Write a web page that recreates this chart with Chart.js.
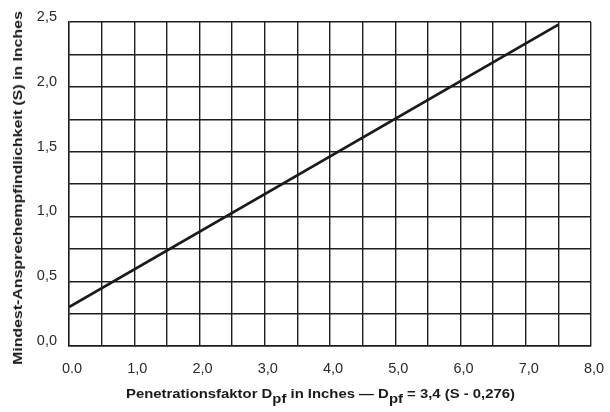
<!DOCTYPE html>
<html>
<head>
<meta charset="utf-8">
<script src="https://cdn.jsdelivr.net/npm/chart.js@4.4.1/dist/chart.umd.min.js"></script>
<style>
    html, body { margin: 0; padding: 0; background: #fff; }
    #wrap { position: relative; width: 610px; height: 412px; }
    .axisTitle {
        position: absolute; white-space: nowrap; line-height: 1;
        font: bold 12.5px "Liberation Sans", Arial, sans-serif; color: #1a1a1a;
    }
    #xTitle { left: 126px; top: 387px; transform-origin: left center; transform: scaleX(1.19); }
    #xTitle sub { font-size: 12.5px; vertical-align: -5px; line-height: 0; }
    #yTitle { left: 18px; top: 188px; transform: translate(-50%, -50%) rotate(-90deg) scaleX(1.27); }
</style>
</head>
<body>
<div id="wrap">
    <canvas id="sensChart" width="610" height="412"></canvas>
    <div id="yTitle" class="axisTitle">Mindest-Ansprechempfindlichkeit (S) in Inches</div>
    <div id="xTitle" class="axisTitle">Penetrationsfaktor D<sub>pf</sub> in Inches — D<sub>pf</sub> = 3,4 (S - 0,276)</div>
</div>
<script>
// Values
const penetrationFactor = [0, 7.5];
const sensitivity = [0.3, 2.48];
const xTickLabels = { 0: '0.0', 1: '1,0', 2: '2,0', 3: '3,0', 4: '4,0', 5: '5,0', 6: '6,0', 7: '7,0', 8: '8,0' };
const yTickLabels = { 0: '0,0', 0.5: '0,5', 1: '1,0', 1.5: '1,5', 2: '2,0', 2.5: '2,5' };

const gridColor = '#1e1e1e';
const tickFont = { family: '"Liberation Sans", Arial, sans-serif', size: 14.5 };

new Chart(document.getElementById('sensChart'), {
    type: 'line',
    data: {
        datasets: [{
            data: penetrationFactor.map((x, i) => ({ x: x, y: sensitivity[i] })),
            borderColor: '#1a1a1a',
            borderWidth: 2.8,
            pointRadius: 0,
            fill: false
        }]
    },
    options: {
        responsive: false,
        animation: false,
        layout: { padding: { left: 0, right: 19, top: 22, bottom: 0 } },
        plugins: {
            legend: { display: false },
            tooltip: { enabled: false }
        },
        scales: {
            x: {
                type: 'linear',
                min: 0, max: 8,
                grid: { color: gridColor, lineWidth: 1.4, drawTicks: false },
                border: { color: gridColor, width: 1.4 },
                ticks: {
                    stepSize: 0.5,
                    autoSkip: false,
                    maxRotation: 0,
                    padding: 14,
                    labelOffset: 3,
                    color: '#2a2a2a',
                    font: tickFont,
                    callback: v => (xTickLabels[v] !== undefined ? xTickLabels[v] : '')
                },
                afterFit: s => { s.height = 66; s.paddingLeft = 0; s.paddingRight = 0; }
            },
            y: {
                type: 'linear',
                min: 0, max: 2.5,
                grid: { color: gridColor, lineWidth: 1.4, drawTicks: false },
                border: { color: gridColor, width: 1.4 },
                ticks: {
                    stepSize: 0.25,
                    autoSkip: false,
                    padding: 12,
                    labelOffset: -5,
                    color: '#2a2a2a',
                    font: tickFont,
                    callback: v => (yTickLabels[v] !== undefined ? yTickLabels[v] : '')
                },
                afterFit: s => { s.width = 69; s.paddingTop = 0; s.paddingBottom = 0; }
            }
        }
    }
});
</script>
</body>
</html>
